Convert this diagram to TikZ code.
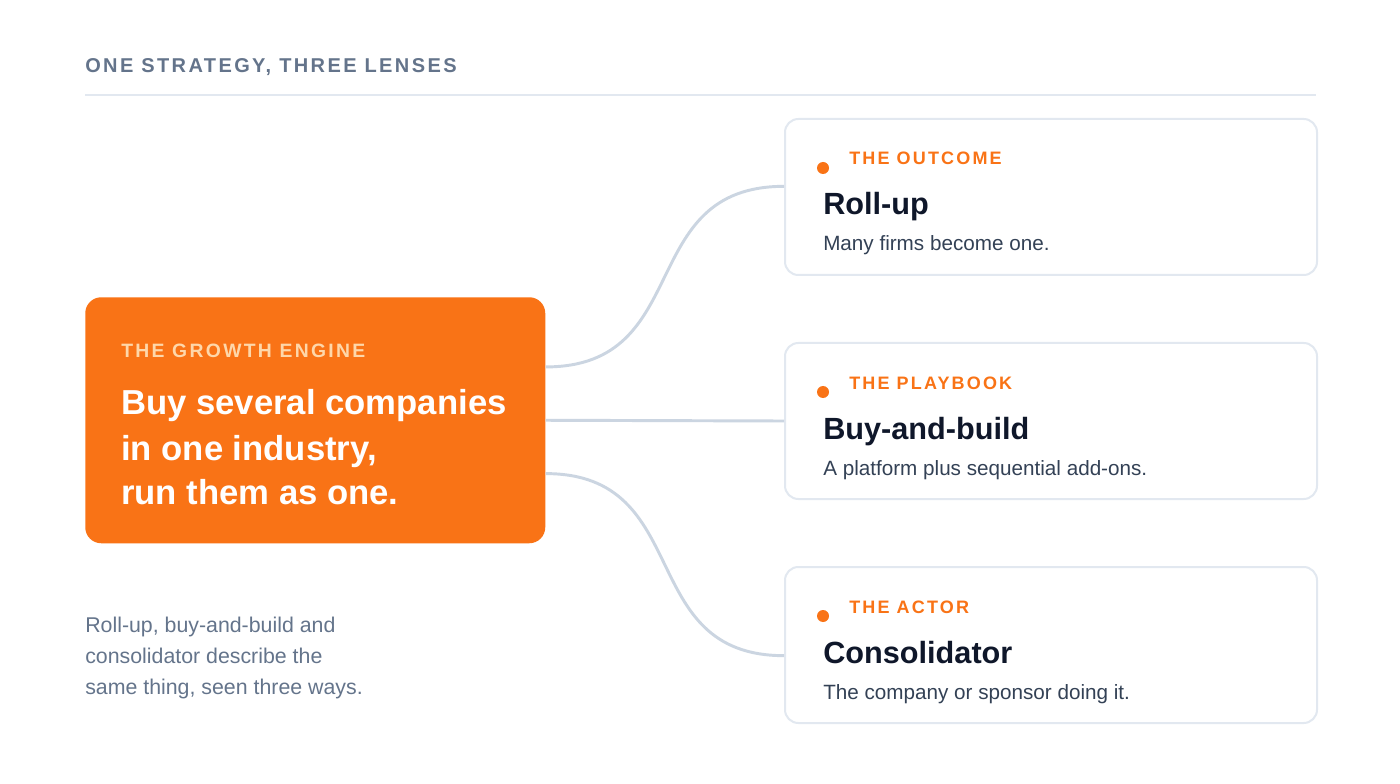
\documentclass[tikz,border=0pt]{standalone}
\usepackage{fontspec}
\setmainfont{Liberation Sans}
\newfontfamily\spacedfont[LetterSpace=12]{Liberation Sans}
\usepackage{xcolor}
\usetikzlibrary{positioning}
\definecolor{brand}{HTML}{F97316}
\definecolor{slate}{HTML}{64748B}
\definecolor{rule}{HTML}{E2E8F0}
\definecolor{wire}{HTML}{CBD5E1}
\definecolor{ink}{HTML}{0F172A}
\definecolor{body}{HTML}{334155}
\definecolor{peach}{HTML}{FED7AA}
\begin{document}
\begin{tikzpicture}[x=0.75pt, y=-0.75pt,
  card/.style={draw=rule, line width=1.5pt, fill=white, rounded corners=10pt, minimum width=399pt, minimum height=117pt, anchor=north west, inner sep=0pt},
  tag/.style={anchor=base west, inner sep=0pt, text=brand, font=\spacedfont\bfseries\fontsize{13.5}{16}\selectfont},
  head/.style={anchor=base west, inner sep=0pt, text=ink, font=\bfseries\fontsize{23}{26}\selectfont},
  desc/.style={anchor=base west, inner sep=0pt, text=body, font=\fontsize{15.5}{18}\selectfont},
  bigline/.style={anchor=base west, inner sep=0pt, text=white, font=\bfseries\fontsize{26}{30}\selectfont},
  noteline/.style={anchor=base west, inner sep=0pt, text=slate, font=\fontsize{16}{19}\selectfont},
  wirestyle/.style={draw=wire, line width=2.2pt}]

\useasboundingbox (0,0) rectangle (1400,784);
\fill[white] (0,0) rectangle (1400,784);

% header
\node[anchor=base west, inner sep=0pt, text=slate, font=\spacedfont\bfseries\fontsize{15}{17}\selectfont] (title) at (85,73) {ONE STRATEGY, THREE LENSES};
\coordinate (ruleL) at (85,95);
\coordinate (ruleR) at (1316,95);
\draw[rule, line width=1.5pt] (ruleL) -- (ruleR);

% growth engine
\node[fill=brand, rounded corners=12pt, minimum width=345pt, minimum height=184.5pt, anchor=north west, inner sep=0pt] (engine) at (85,297) {};
\node[anchor=base west, inner sep=0pt, text=peach, font=\spacedfont\bfseries\fontsize{14.5}{17}\selectfont] (engtag) at (121,358) {THE GROWTH ENGINE};
\node[bigline] (eng1) at (121,415) {Buy several companies};
\node[bigline] (eng2) at (121,460) {in one industry,};
\node[bigline] (eng3) at (121,504) {run them as one.};

% cards
\node[card] (outcome) at (784,118) {};
\node[card] (playbook) at (784,342) {};
\node[card] (actor) at (784,566) {};
\foreach \c/\t/\h/\d in {outcome/THE OUTCOME/Roll-up/Many firms become one.,
                         playbook/THE PLAYBOOK/Buy-and-build/A platform plus sequential add-ons.,
                         actor/THE ACTOR/Consolidator/The company or sponsor doing it.}{
  \fill[brand] ([shift={(39,50)}]\c.north west) circle (4.5pt);
  \node[tag] (\c-tag) at ([shift={(65,47)}]\c.north west) {\t};
  \node[head] (\c-head) at ([shift={(39,97)}]\c.north west) {\h};
  \node[desc] (\c-desc) at ([shift={(39,133)}]\c.north west) {\d};
}

% connectors
\coordinate (outA) at ([yshift=40pt]engine.east);
\coordinate (outC) at ([yshift=-40pt]engine.east);
\draw[wirestyle] (outA) .. controls +(150,0) and +(-150,0) .. ([yshift=8pt]outcome.west);
\draw[wirestyle] (engine.east) -- (playbook.west);
\draw[wirestyle] (outC) .. controls +(150,0) and +(-150,0) .. ([yshift=-8pt]actor.west);

% footnote
\node[noteline] (note1) at (85,632) {Roll-up, buy-and-build and};
\node[noteline] (note2) at (85,663) {consolidator describe the};
\node[noteline] (note3) at (85,694) {same thing, seen three ways.};

\end{tikzpicture}
\end{document}
